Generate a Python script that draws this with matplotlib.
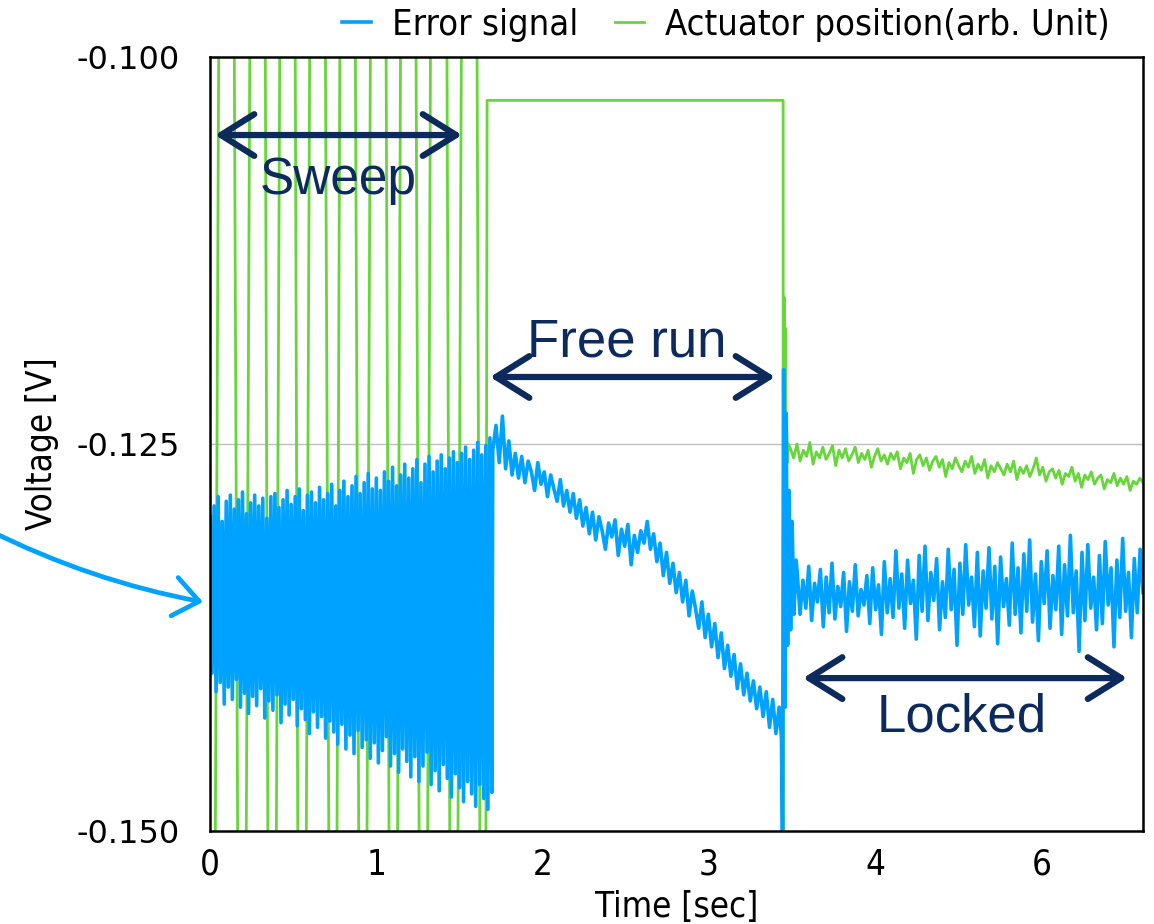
import numpy as np
import matplotlib
matplotlib.use("Agg")
import matplotlib.pyplot as plt
from matplotlib.patches import FancyArrowPatch

# --- data (voltages in mV) ---
# x axis: tick labels 0..4 then "6" (axis compressed after 4 s)
tick_pos = [0, 1, 2, 3, 4, 5]
tick_lab = ["0", "1", "2", "3", "4", "6"]

# error signal, sweep section: alternating highs / lows
sweep_hi = [-129.7, -129.0, -128.4, -130.0, -128.7, -128.3, -129.2, -128.6, -128.1, -129.5,
            -128.8, -128.3, -129.0, -128.5, -129.8, -128.4, -128.2, -129.1, -128.6, -128.0,
            -128.9, -128.4, -127.9, -129.3, -128.3, -128.1, -128.8, -127.8, -128.6, -128.2,
            -127.6, -129.0, -128.0, -127.4, -128.4, -127.7, -127.1, -128.2, -127.5, -126.9,
            -127.9, -127.2, -128.0, -126.8, -127.4, -126.5, -127.7, -127.0, -126.3, -127.2,
            -126.6, -126.0, -127.5, -126.3, -125.8, -126.8, -126.1, -125.7, -126.6, -125.9,
            -125.5, -126.2, -125.6, -125.2, -126.0, -125.4, -124.9, -125.7, -125.1, -124.6]
sweep_lo = [-139.8, -141.0, -140.4, -141.8, -140.7, -141.5, -140.2, -142.0, -141.1, -142.4,
            -141.3, -141.9, -140.8, -142.7, -141.6, -142.2, -141.2, -143.0, -141.8, -142.5,
            -141.5, -143.2, -142.1, -142.8, -143.7, -142.3, -143.3, -142.6, -144.0, -142.9,
            -143.6, -144.4, -143.1, -144.7, -143.8, -145.0, -143.5, -144.6, -144.1, -145.3,
            -144.3, -145.6, -144.8, -143.9, -145.8, -145.0, -146.2, -144.7, -145.5, -146.5,
            -145.2, -146.8, -145.8, -144.9, -147.0, -146.1, -147.4, -145.7, -146.6, -147.8,
            -146.3, -147.2, -148.1, -146.8, -147.6, -148.4, -147.0, -147.9, -148.6, -147.5]

# error signal, free run section
free_run = [-125.4, -123.8, -126.2, -123.2, -126.6, -124.8, -127.0, -125.6, -127.2, -125.8,
            -127.5, -126.1, -126.8, -128.0, -126.2, -127.6, -126.8, -128.4, -127.0, -127.9,
            -128.7, -127.3, -129.0, -128.0, -129.4, -128.2, -129.8, -128.6, -130.3, -129.1,
            -130.8, -129.4, -131.2, -129.7, -130.6, -131.8, -130.1, -131.0, -129.9, -132.2,
            -130.5, -131.6, -130.2, -132.8, -130.9, -132.0, -130.6, -131.4, -130.0, -131.8,
            -130.8, -132.6, -131.4, -133.5, -132.0, -134.0, -132.7, -134.6, -133.3, -135.2,
            -133.8, -136.1, -134.5, -135.6, -136.9, -135.2, -137.5, -136.0, -138.1, -136.6,
            -138.8, -137.2, -139.5, -138.0, -140.0, -138.6, -140.8, -139.2, -141.2, -139.8,
            -141.6, -140.3, -142.1, -140.7, -142.6, -141.0, -143.3, -141.5, -143.7, -142.0]

# error signal, lock acquisition transient
jump_t = [3.436, 3.442, 3.449, 3.458, 3.464, 3.473, 3.482, 3.491, 3.500, 3.511, 3.524]
jump_v = [-144.0, -150.5, -120.2, -142.0, -123.0, -138.0, -128.0, -137.0, -130.0, -136.0, -132.5]

# error signal, locked section
locked = [-133.2, -136.0, -133.8, -135.6, -132.9, -136.4, -134.0, -135.2, -133.1, -136.8,
          -133.6, -135.9, -132.7, -136.3, -134.2, -135.5, -133.3, -137.1, -133.9, -135.8,
          -132.8, -136.1, -134.4, -135.4, -133.5, -136.6, -133.0, -135.7, -134.1, -137.3,
          -132.6, -135.9, -133.7, -136.2, -131.9, -135.6, -133.4, -136.9, -132.5, -135.3,
          -133.8, -137.6, -132.2, -135.8, -131.6, -136.4, -133.3, -135.1, -132.4, -137.0,
          -133.9, -136.2, -131.8, -135.7, -133.1, -138.0, -132.7, -136.0, -131.5, -135.4,
          -133.6, -136.8, -132.0, -137.4, -133.2, -135.6, -131.7, -136.3, -132.9, -137.9,
          -132.3, -135.5, -133.7, -136.7, -131.4, -136.0, -133.0, -137.2, -132.1, -135.8,
          -131.2, -136.5, -133.4, -137.7, -132.6, -135.3, -131.9, -136.9, -133.5, -135.7,
          -131.6, -137.3, -132.8, -136.1, -130.9, -135.9, -133.2, -138.4, -132.0, -136.4,
          -131.5, -135.6, -133.6, -137.0, -132.2, -136.6, -131.3, -135.4, -133.0, -138.1,
          -132.5, -136.2, -131.1, -135.8, -133.3, -137.5, -132.4, -135.9, -131.8, -134.6]

# actuator, sweep: crossing times of the (clipped) drive waveform
act_sweep_t = [0.000, 0.030, 0.054, 0.144, 0.168, 0.216, 0.241, 0.331, 0.349, 0.397,
               0.421, 0.511, 0.529, 0.577, 0.601, 0.692, 0.716, 0.762, 0.782, 0.872,
               0.896, 0.942, 0.966, 1.057, 1.078, 1.126, 1.147, 1.237, 1.259, 1.307,
               1.327, 1.423, 1.443, 1.489, 1.513, 1.604, 1.624, 1.658, 1.666]
act_sweep_v = [-155, -155, -95, -95, -155, -155, -95, -95, -155, -155,
               -95, -95, -155, -155, -95, -95, -155, -155, -95, -95,
               -155, -155, -95, -95, -155, -155, -95, -95, -155, -155,
               -95, -95, -155, -155, -95, -95, -155, -155, -102.8]
# actuator, hold + transient
act_hold_t = [3.446, 3.447, 3.452, 3.456, 3.459, 3.463, 3.467, 3.472, 3.478]
act_hold_v = [-102.8, -150.5, -115.5, -123.8, -117.5, -128.6, -123.0, -126.2, -125.0]
# actuator, locked
act_locked = [-125.3, -125.9, -125.0, -126.1, -125.4, -125.8, -124.9, -126.3, -125.5, -125.9,
              -125.2, -126.0, -125.6, -125.1, -126.4, -125.4, -125.9, -125.3, -126.1, -125.7,
              -125.2, -126.2, -125.6, -126.0, -125.4, -126.5, -125.8, -125.3, -126.1, -125.7,
              -126.3, -125.6, -126.0, -125.5, -126.6, -125.9, -126.2, -125.6, -126.9, -126.0,
              -125.7, -126.4, -125.9, -126.7, -126.1, -125.8, -126.5, -126.0, -127.1, -126.2,
              -126.6, -125.9, -126.4, -126.8, -126.1, -126.5, -125.8, -126.9, -126.3, -126.7,
              -126.0, -127.2, -126.4, -126.8, -126.2, -126.6, -127.0, -126.3, -126.8, -126.1,
              -127.3, -126.5, -126.9, -126.4, -127.1, -126.6, -125.9, -127.0, -126.5, -127.4,
              -126.8, -126.6, -127.2, -126.7, -127.6, -126.9, -127.1, -126.5, -127.4, -126.9,
              -127.8, -127.0, -127.3, -126.8, -127.6, -127.2, -127.0, -127.9, -127.3, -127.5,
              -126.9, -127.7, -127.2, -127.6, -127.1, -128.0, -127.4, -127.6, -127.2, -127.5]

# --- assemble traces ---
sweep_v = np.empty(len(sweep_hi) * 2)
sweep_v[0::2] = sweep_hi
sweep_v[1::2] = sweep_lo
err_t = np.concatenate([np.linspace(0, 1.695, len(sweep_v)),
                        np.linspace(1.70, 3.422, len(free_run)),
                        jump_t,
                        np.linspace(3.53, 5.61, len(locked))])
err_v = np.concatenate([sweep_v, free_run, jump_v, locked]) * 1e-3

act_t = np.concatenate([act_sweep_t, act_hold_t, np.linspace(3.49, 5.61, len(act_locked))])
act_v = np.concatenate([act_sweep_v, act_hold_v, act_locked]) * 1e-3

blue = "#00a2ff"
green = "#66d63a"
navy = "#0c2a5b"
narrow = dict(family="DejaVu Sans", stretch="condensed")

fig = plt.figure(figsize=(11.54, 9.24), dpi=100)
ax = fig.add_axes([0.182, 0.1006, 0.8085, 0.8377])

ax.plot(act_t, act_v, color=green, lw=2.0, label="Actuator position(arb. Unit)", zorder=2)
ax.plot(err_t, err_v, color=blue, lw=2.6, label="Error signal", zorder=3)

ax.set_xlim(0, 5.61)
ax.set_ylim(-0.150, -0.100)
ax.set_yticks([-0.150, -0.125, -0.100])
ax.set_yticklabels(["-0.150", "-0.125", "-0.100"], fontsize=23, family="DejaVu Sans")
ax.set_xticks(tick_pos)
ax.set_xticklabels(tick_lab, fontsize=25, **narrow)
ax.tick_params(axis="both", length=0)
ax.tick_params(axis="y", pad=22)
ax.tick_params(axis="x", pad=12)
ax.axhline(-0.125, color="#bdbdbd", lw=1, zorder=1)
for s in ax.spines.values():
    s.set_linewidth(1.8)
    s.set_zorder(5)

ax.set_xlabel("Time [sec]", fontsize=25, labelpad=6, **narrow)
ax.set_ylabel("Voltage [V]", fontsize=25, labelpad=12, **narrow)

# region annotations
def span_arrow(x0, x1, y):
    a = FancyArrowPatch((x0, y), (x1, y), arrowstyle="<->,head_length=24,head_width=15",
                        mutation_scale=1, lw=4.5, color=navy, zorder=6,
                        shrinkA=0, shrinkB=0)
    ax.add_patch(a)

span_arrow(0.03, 1.515, -0.10504)
ax.text(0.77, -0.10795, "Sweep", fontsize=37, color=navy, ha="center", va="center",
        family="Liberation Sans", zorder=6)
span_arrow(1.684, 3.397, -0.12067)
ax.text(2.507, -0.11841, "Free run", fontsize=38, color=navy, ha="center", va="center",
        family="Liberation Sans", zorder=6)
span_arrow(3.566, 5.514, -0.14012)
ax.text(4.522, -0.14264, "Locked", fontsize=38, color=navy, ha="center", va="center",
        family="Liberation Sans", zorder=6)

# curved pointer from the left margin
ptr = FancyArrowPatch((-0.01, 0.4264), (0.1759, 0.3485), transform=fig.transFigure,
                      connectionstyle="arc3,rad=0.07",
                      arrowstyle="->,head_length=18,head_width=14", mutation_scale=1,
                      lw=3.4, color=blue, shrinkA=0, shrinkB=0)
fig.patches.append(ptr)

h, l = ax.get_legend_handles_labels()
fig.legend(h[::-1], l[::-1], loc="upper right", bbox_to_anchor=(0.99, 1.027), ncol=2,
           frameon=False, handlelength=0.8, handletextpad=0.6, columnspacing=1.0,
           prop=dict(size=26, **narrow))

fig.savefig("out.png", dpi=100)
